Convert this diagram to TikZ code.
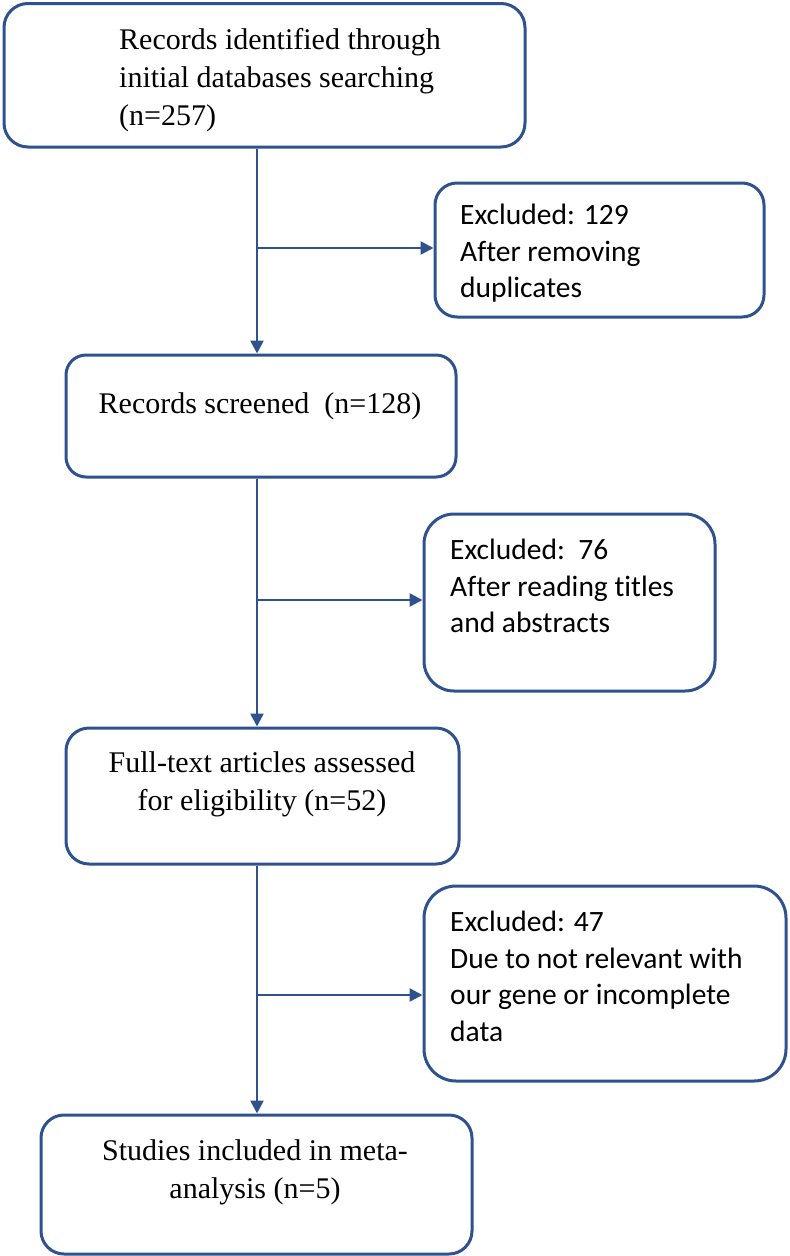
\documentclass[tikz,border=0pt]{standalone}
\usepackage{fontspec}
\setmainfont{Liberation Serif}
\newfontfamily\calfont[RawFeature={-liga;-dlig}]{Carlito}
\usetikzlibrary{arrows.meta}
\definecolor{boxblue}{RGB}{47,82,143}
\tikzset{
  box/.style={draw=boxblue, line width=3pt, fill=white, inner sep=0pt},
  serif/.style={inner sep=0pt, font=\fontsize{30}{38}\selectfont},
  sans/.style={inner sep=0pt, font=\calfont\fontsize{29.5}{36.5}\selectfont},
  arr/.style={draw=boxblue, line width=2.5pt, -{Triangle[length=13pt,width=13pt]}}
}
\begin{document}
\begin{tikzpicture}[x=1pt,y=-1pt]
\useasboundingbox (0,0) rectangle (790,1256);
% boxes
\node[box, minimum width=521pt, minimum height=143.5pt, rounded corners=24pt] (b1) at (264.5,75.25) {};
\node[box, minimum width=329pt, minimum height=134pt, rounded corners=22pt] (b2) at (599.5,250) {};
\node[box, minimum width=390pt, minimum height=122pt, rounded corners=20pt] (b3) at (261,416) {};
\node[box, minimum width=291pt, minimum height=177pt, rounded corners=30pt] (b4) at (569.5,602.5) {};
\node[box, minimum width=393pt, minimum height=136pt, rounded corners=23pt] (b5) at (262.5,796) {};
\node[box, minimum width=362pt, minimum height=195pt, rounded corners=32pt] (b6) at (605,983.5) {};
\node[box, minimum width=431pt, minimum height=139pt, rounded corners=23pt] (b7) at (256.5,1184.5) {};
% texts
\node[serif, anchor=north west, align=left] (t1) at (119,28) {Records identified through\\initial databases searching\\(n=257)};
\node[sans, anchor=north west, align=left] (t2) at (460,204) {Excluded: 129\\After removing\\duplicates};
\node[serif, anchor=base] (t3) at (260,413) {Records screened\ \ (n=128)};
\node[sans, anchor=north west, align=left] (t4) at (450,539) {Excluded:\ \ 76\\After reading titles\\and abstracts};
\node[serif, anchor=north, align=center] (t5) at (262,751) {Full-text articles assessed\\for eligibility (n=52)};
\node[sans, anchor=north west, align=left] (t6) at (450,911) {Excluded: 47\\Due to not relevant with\\our gene or incomplete\\data};
\node[serif, anchor=north, align=center] (t7) at (255,1139) {Studies included in meta-\\analysis (n=5)};
% connectors
\coordinate (s) at (257,0);
\coordinate (j1) at (257,248);
\coordinate (j2) at (257,600);
\coordinate (j3) at (257,995);
\draw[arr] (s |- b1.south) -- (s |- b3.north);
\draw[arr] (j1) -- (j1 -| b2.west);
\draw[arr] (s |- b3.south) -- (s |- b5.north);
\draw[arr] (j2) -- (j2 -| b4.west);
\draw[arr] (s |- b5.south) -- (s |- b7.north);
\draw[arr] (j3) -- (j3 -| b6.west);
\end{tikzpicture}
\end{document}
